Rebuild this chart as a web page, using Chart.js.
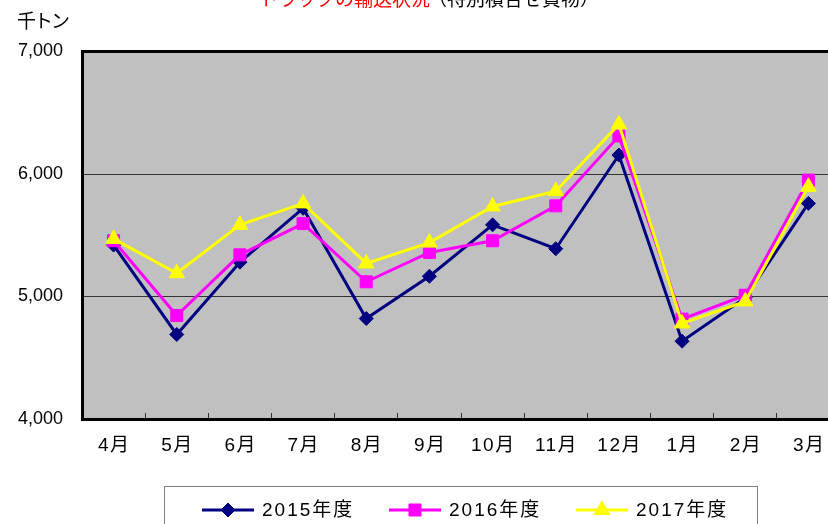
<!DOCTYPE html>
<html>
<head>
<meta charset="utf-8">
<script src="https://cdn.jsdelivr.net/npm/chart.js@4"></script>
<style>
  html, body { margin: 0; padding: 0; background: #fff; overflow: hidden; }
  canvas { display: block; }
</style>
</head>
<body>
<canvas id="chart" width="850" height="524"></canvas>
<script>
// months on the x axis (fiscal year order, April start)
const months = ['4月', '5月', '6月', '7月', '8月', '9月', '10月', '11月', '12月', '1月', '2月', '3月'];

// monthly volume, thousand tonnes
const fy2015 = [5420, 4690, 5280, 5720, 4820, 5165, 5585, 5390, 6155, 4635, 4990, 5760];
const fy2016 = [5455, 4845, 5340, 5595, 5120, 5360, 5455, 5740, 6310, 4815, 5010, 5950];
const fy2017 = [5470, 5190, 5585, 5760, 5270, 5440, 5735, 5860, 6405, 4780, 4960, 5895];

const seriesNames = ['2015年度', '2016年度', '2017年度'];
const yTicks = [4000, 5000, 6000, 7000];

const titleRed = 'トラックの輸送状況';
const titleBlack = '（特別積合せ貨物）';
const unitLabel = '千トン';

const labelFont = '19px "Liberation Sans", "Noto Sans CJK JP", sans-serif';

// draw text with letter spacing, centred or left aligned
function spacedText(ctx, text, x, y, spacing, align) {
  ctx.letterSpacing = spacing + 'px';
  const w = ctx.measureText(text).width - spacing;
  const left = align === 'center' ? x - w / 2 : x;
  ctx.textAlign = 'left';
  ctx.fillText(text, left, y);
  ctx.letterSpacing = '0px';
}

const decor = {
  id: 'decor',
  beforeDraw(chart) {
    const { ctx, chartArea: a } = chart;
    ctx.save();
    ctx.fillStyle = '#c0c0c0';
    ctx.fillRect(a.left, a.top, a.right - a.left, a.bottom - a.top);
    ctx.restore();
  },
  afterDraw(chart) {
    const ctx = chart.ctx;
    const xs = chart.scales.x;
    ctx.save();

    // title, cut at the top edge
    ctx.textBaseline = 'alphabetic';
    ctx.font = '19px "Noto Sans CJK JP", sans-serif';
    ctx.fillStyle = '#ff0000';
    ctx.textAlign = 'right';
    ctx.fillText(titleRed, 430, 6);
    ctx.fillStyle = '#000';
    ctx.textAlign = 'left';
    ctx.fillText(titleBlack, 428, 6);

    // unit
    ctx.font = '19px "Noto Sans CJK JP", sans-serif';
    ctx.textBaseline = 'middle';
    spacedText(ctx, unitLabel, 17, 21, -2, 'left');

    // month labels
    ctx.font = labelFont;
    ctx.fillStyle = '#000';
    months.forEach((m, i) => {
      spacedText(ctx, m, xs.getPixelForValue(i), 446, 1.5, 'center');
    });

    // legend box
    ctx.strokeStyle = '#808080';
    ctx.lineWidth = 1;
    ctx.strokeRect(164.5, 486.5, 593, 60);
    const ly = 510;
    chart.data.datasets.forEach((ds, i) => {
      const x0 = 202 + i * 187;
      ctx.strokeStyle = ds.borderColor;
      ctx.lineWidth = 3;
      ctx.beginPath();
      ctx.moveTo(x0, ly);
      ctx.lineTo(x0 + 52, ly);
      ctx.stroke();
      ctx.fillStyle = ds.borderColor;
      ctx.lineWidth = 1;
      Chart.helpers.drawPoint(ctx, { pointStyle: ds.pointStyle, radius: ds.pointRadius, rotation: 0, borderWidth: 1 }, x0 + 26, ly);
      ctx.fillStyle = '#000';
      ctx.font = labelFont;
      ctx.textBaseline = 'middle';
      spacedText(ctx, ds.label, x0 + 60, ly + 1, 2, 'left');
    });
    ctx.restore();
  }
};

new Chart(document.getElementById('chart'), {
  type: 'line',
  data: {
    labels: months,
    datasets: [
      {
        label: seriesNames[0],
        data: fy2015,
        borderColor: '#000080',
        backgroundColor: '#000080',
        borderWidth: 3,
        pointStyle: 'rectRot',
        pointRadius: 7,
        pointBorderWidth: 1,
        order: 2,
      },
      {
        label: seriesNames[1],
        data: fy2016,
        borderColor: '#ff00ff',
        backgroundColor: '#ff00ff',
        borderWidth: 3,
        pointStyle: 'rect',
        pointRadius: 8.5,
        pointBorderWidth: 1,
        order: 1,
      },
      {
        label: seriesNames[2],
        data: fy2017,
        borderColor: '#ffff00',
        backgroundColor: '#ffff00',
        borderWidth: 3,
        pointStyle: 'triangle',
        pointRadius: 9,
        pointBorderWidth: 1,
        order: 0,
      },
    ],
  },
  options: {
    responsive: false,
    animation: false,
    events: [],
    layout: { padding: { top: 51.5, right: 6, left: 0, bottom: 0 } },
    plugins: {
      legend: { display: false },
      title: { display: false },
      tooltip: { enabled: false },
    },
    elements: { line: { tension: 0 } },
    scales: {
      x: {
        offset: true,
        grid: {
          offset: true,
          drawOnChartArea: false,
          drawTicks: true,
          tickLength: -6,
          color: '#333',
          lineWidth: 1,
        },
        border: { display: true, color: '#000', width: 3 },
        ticks: { display: false },
        afterFit(scale) { scale.height = 105; },
      },
      y: {
        min: 4000,
        max: 7000,
        afterBuildTicks(scale) { scale.ticks = yTicks.map(v => ({ value: v })); },
        grid: {
          drawTicks: false,
          color: ctx => (ctx.tick && ctx.tick.value === 7000 ? '#000' : '#333'),
          lineWidth: ctx => (ctx.tick && ctx.tick.value === 7000 ? 3 : 1),
        },
        border: { display: true, color: '#000', width: 3 },
        ticks: {
          padding: 19,
          color: '#000',
          font: { family: '"Liberation Sans", sans-serif', size: 18 },
          callback: v => v.toLocaleString('en-US'),
        },
        afterFit(scale) { scale.width = 82; },
      },
    },
  },
  plugins: [decor],
});
</script>
</body>
</html>
